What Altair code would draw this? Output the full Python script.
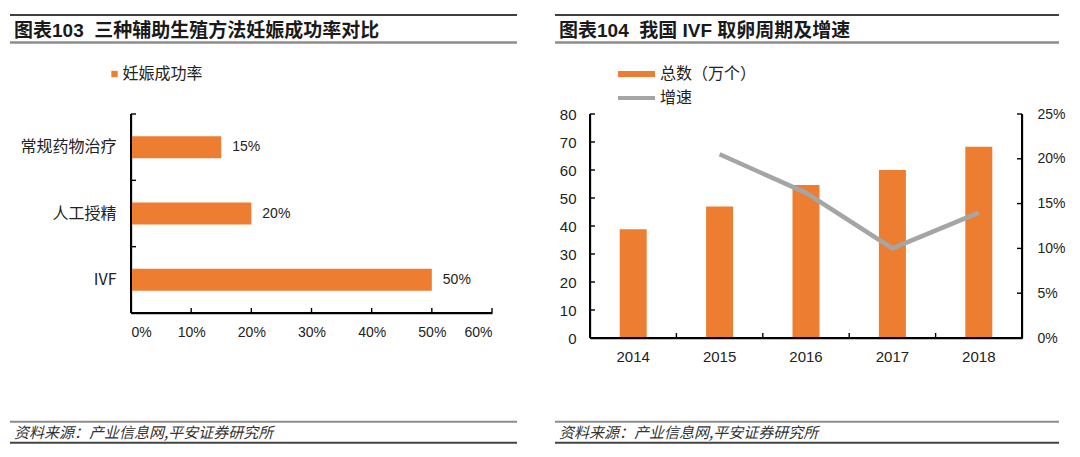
import altair as alt
import pandas as pd

# ---------------- data ----------------
methods = ['常规药物治疗', '人工授精', 'IVF']
success_rate = [0.15, 0.20, 0.50]
left_series = '妊娠成功率'
left_x_ticks = [0, 0.1, 0.2, 0.3, 0.4, 0.5, 0.6]

years = ['2014', '2015', '2016', '2017', '2018']
totals = [38.8, 47.0, 54.6, 60.0, 68.3]
growth_years = ['2015', '2016', '2017', '2018']
growth = [0.205, 0.162, 0.100, 0.140]
right_series_bar = '总数（万个）'
right_series_line = '增速'
right_left_ticks = [0, 10, 20, 30, 40, 50, 60, 70, 80]
right_right_ticks = [0, 0.05, 0.10, 0.15, 0.20, 0.25]

title_left = '图表103\u00a0\u00a0三种辅助生殖方法妊娠成功率对比'
title_right = '图表104\u00a0\u00a0我国 IVF 取卵周期及增速'
source_text = '资料来源：产业信息网,平安证券研究所'

# ---------------- style ----------------
ORANGE = '#ED7D31'
GRAY = '#A5A5A5'
CJK = 'Noto Sans CJK SC'
SANS = 'Liberation Sans, Noto Sans CJK SC'
NARROW = 'Liberation Sans Narrow, Liberation Sans, Noto Sans CJK SC'
TXT = '#222222'
DOM = dict(domain=True, domainColor='black', domainWidth=1.3)
AXW = 2

LW, LH = 361, 199
RW, RH = 432, 224

one = pd.DataFrame({'d': [0]})


def hline(x1, x2, y, color, width):
    return alt.Chart(one).mark_rule(color=color, strokeWidth=width).encode(
        x=alt.value(x1), x2=alt.value(x2), y=alt.value(y))


def vline(x, y1, y2, color='black', width=AXW):
    return alt.Chart(one).mark_rule(color=color, strokeWidth=width).encode(
        x=alt.value(x), y=alt.value(y1), y2=alt.value(y2))


def label(s, x, y, size, bold=False, italic=False, color=TXT, font=SANS):
    return alt.Chart(one).mark_text(
        text=s, align='left', baseline='middle', fontSize=size, font=font,
        fontWeight='bold' if bold else 'normal',
        fontStyle='italic' if italic else 'normal', color=color
    ).encode(x=alt.value(x), y=alt.value(y))


def frame(x1, x2, title):
    return [
        hline(x1, x2, -99, 'black', 1.5),
        label(title, x1 + 4, -83, 19, bold=True, color='#1a1a1a'),
        hline(x1, x2, -71.5, '#8c8c8c', 2.5),
        hline(x1, x2, 307.7, '#8c8c8c', 2),
        label(source_text, x1 + 4, 319, 15, italic=True, color='#333333', font=CJK),
        hline(x1, x2, 328.7, '#444444', 2),
    ]


# ---------------- left panel ----------------
left_df = pd.DataFrame({'method': methods, 'rate': success_rate})
xs_l = alt.Scale(domain=[0, 0.6], nice=False)
ys_l = alt.Scale(domain=methods, paddingInner=0, paddingOuter=0)
xa_l = alt.Axis(values=left_x_ticks, format='.0%', ticks=False, grid=False,
                title=None, labelFont=NARROW, labelFontSize=14,
                labelPadding=12, labelColor=TXT, **DOM)
ya_l = alt.Axis(title=None, ticks=False, grid=False, labelFont=CJK, labelFontSize=16,
                labelPadding=15, labelColor=TXT, **DOM)

bars_l = alt.Chart(left_df).mark_bar(color=ORANGE, size=22).encode(
    x=alt.X('rate:Q', scale=xs_l, axis=xa_l),
    y=alt.Y('method:N', scale=ys_l, axis=ya_l),
)
text_l = alt.Chart(left_df).mark_text(
    align='left', dx=11, fontSize=14, font=NARROW, color=TXT
).encode(
    x=alt.X('rate:Q', scale=xs_l, axis=xa_l),
    y=alt.Y('method:N', scale=ys_l, axis=ya_l),
    text=alt.Text('rate:Q', format='.0%'),
)
xt_l = alt.Chart(pd.DataFrame({'rate': left_x_ticks[1:]})).mark_rule(
    color='black', strokeWidth=1.4
).encode(x=alt.X('rate:Q', scale=xs_l, axis=xa_l),
         y=alt.value(LH - 5), y2=alt.value(LH))
yt_l = alt.Chart(pd.DataFrame({'method': methods})).mark_rule(
    color='black', strokeWidth=1.4
).encode(y=alt.Y('method:N', scale=ys_l, bandPosition=0, axis=ya_l),
         x=alt.value(0), x2=alt.value(5))

legend_l = [
    alt.Chart(one).mark_square(size=40, color=ORANGE, opacity=1).encode(
        x=alt.value(-16.5), y=alt.value(-40)),
    label(left_series, -8.5, -40, 16, font=CJK),
]

left = alt.layer(
    *frame(-121, 386, title_left), *legend_l,
    bars_l, text_l, xt_l, yt_l,
    vline(0, 0, LH), hline(0, LW, LH, 'black', AXW),
).properties(width=LW, height=LH)

# ---------------- right panel ----------------
right_df = pd.DataFrame({'year': years, 'total': totals})
growth_df = pd.DataFrame({'year': growth_years, 'growth': growth})
xs_r = alt.Scale(domain=years, paddingInner=0, paddingOuter=0)
yl_r = alt.Scale(domain=[0, 80], nice=False)
yr_r = alt.Scale(domain=[0, 0.25], nice=False)
xa_r = alt.Axis(title=None, ticks=False, grid=False, labelAngle=0, labelFont=SANS,
                labelFontSize=15, labelPadding=11, labelColor=TXT, **DOM)

bars_r = alt.Chart(right_df).mark_bar(color=ORANGE, size=27).encode(
    x=alt.X('year:N', scale=xs_r, axis=xa_r),
    y=alt.Y('total:Q', scale=yl_r,
            axis=alt.Axis(values=right_left_ticks, ticks=False, grid=False, title=None,
                          labelFont=SANS, labelFontSize=15, labelPadding=14,
                          labelColor=TXT, **DOM)),
)
line_r = alt.Chart(growth_df).mark_line(color=GRAY, strokeWidth=4.5).encode(
    x=alt.X('year:N', scale=xs_r, axis=xa_r),
    y=alt.Y('growth:Q', scale=yr_r,
            axis=alt.Axis(orient='right', values=right_right_ticks, format='.0%',
                          ticks=False, grid=False, title=None, labelFont=NARROW,
                          labelFontSize=14, labelPadding=15, labelColor=TXT, **DOM)),
)
xt_r = alt.Chart(pd.DataFrame({'year': years})).mark_rule(
    color='black', strokeWidth=1.4
).encode(x=alt.X('year:N', scale=xs_r, bandPosition=0, axis=xa_r),
         y=alt.value(RH - 5), y2=alt.value(RH))
ylt_r = alt.Chart(pd.DataFrame({'v': right_left_ticks[1:]})).mark_rule(
    color='black', strokeWidth=1.4
).encode(y=alt.Y('v:Q', scale=yl_r, axis=None),
         x=alt.value(0), x2=alt.value(5))
yrt_r = alt.Chart(pd.DataFrame({'v': right_right_ticks[1:]})).mark_rule(
    color='black', strokeWidth=1.4
).encode(y=alt.Y('v:Q', scale=yr_r, axis=None),
         x=alt.value(RW - 5), x2=alt.value(RW))

legend_r = [
    hline(28, 65, -40, ORANGE, 6),
    label(right_series_bar, 70, -40, 16, font=CJK),
    hline(28, 65, -16, GRAY, 4),
    label(right_series_line, 70, -16, 16, font=CJK),
]

right = alt.layer(
    *frame(-35, 469, title_right), *legend_r,
    bars_r, line_r, xt_r, ylt_r, yrt_r,
    vline(0, 0, RH), vline(RW, 0, RH), hline(0, RW, RH, 'black', AXW),
).resolve_scale(y='independent').properties(width=RW, height=RH)

chart = alt.hconcat(left, right, spacing=98, bounds='flush').properties(
    padding={'left': 0, 'top': 6, 'right': 0, 'bottom': 0}
).configure_view(stroke=None).configure_axis(
    domainColor='black', domainWidth=1.3
)

chart.save('out.html', embed_options={'renderer': 'svg', 'actions': False})
